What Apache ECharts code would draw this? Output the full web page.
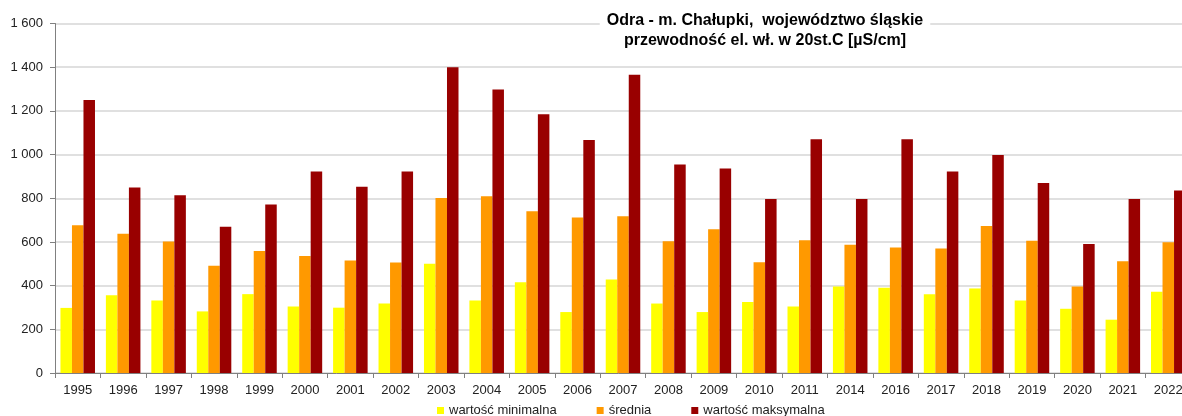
<!DOCTYPE html>
<html lang="pl">
<head>
    <meta charset="UTF-8">
    <title>Odra - m. Chałupki</title>
    <script src="https://cdn.jsdelivr.net/npm/echarts@6/dist/echarts.min.js"></script>
    <style>
        html, body { margin: 0; padding: 0; background: #fff; }
        #main { width: 1182px; height: 416px; }
    </style>
</head>
<body>
    <div id="main"></div>

    <script>
        // lata pomiarów
        var years = ['1995', '1996', '1997', '1998', '1999', '2000', '2001', '2002', '2003', '2004',
            '2005', '2006', '2007', '2008', '2009', '2010', '2011', '2014', '2016', '2017',
            '2018', '2019', '2020', '2021', '2022'];

        var minValues = [298, 356, 332, 282, 361, 305, 299, 318, 500, 332,
            416, 279, 428, 318, 279, 325, 305, 396, 390, 361,
            387, 332, 294, 244, 372];

        var meanValues = [676, 637, 602, 491, 558, 536, 515, 506, 801, 809,
            740, 712, 718, 603, 658, 507, 608, 587, 574, 570,
            673, 606, 396, 512, 599];

        var maxValues = [1250, 849, 814, 669, 771, 923, 853, 923, 1400, 1298,
            1184, 1067, 1365, 954, 936, 797, 1070, 797, 1070, 922,
            998, 870, 590, 797, 835];

        var seriesNames = ['wartość minimalna', 'średnia', 'wartość maksymalna'];
        var colors = ['#ffff00', '#ff9900', '#990000'];

        var font = '"Liberation Sans", Arial, sans-serif';

        // 1600 -> "1 600"
        function fmt(v) {
            return String(v).replace(/\B(?=(\d{3})+$)/g, ' ');
        }

        var option = {
            animation: false,
            color: colors,
            title: {
                text: 'Odra - m. Chałupki,  województwo śląskie\nprzewodność el. wł. w 20st.C [µS/cm]',
                left: 758,
                top: 8,
                textAlign: 'center',
                backgroundColor: '#fff',
                padding: [3, 7, 2, 7],
                textStyle: {
                    fontFamily: font,
                    fontSize: 16,
                    fontWeight: 'bold',
                    color: '#000',
                    lineHeight: 20
                }
            },
            legend: {
                data: seriesNames,
                left: 432,
                top: 399,
                icon: 'rect',
                itemWidth: 7,
                itemHeight: 7,
                itemGap: 40,
                textStyle: { fontFamily: font, fontSize: 13, color: '#222' }
            },
            grid: {
                left: 55,
                top: 23.5,
                width: 1136,
                height: 349.5,
                outerBoundsMode: 'none',
                containLabel: false
            },
            xAxis: {
                type: 'category',
                data: years,
                axisLine: { lineStyle: { color: '#808080' } },
                axisTick: { show: true, length: 5, lineStyle: { color: '#808080' } },
                axisLabel: { fontFamily: font, fontSize: 13, color: '#222', margin: 11, interval: 0 }
            },
            yAxis: {
                type: 'value',
                min: 0,
                max: 1600,
                interval: 200,
                axisLine: { show: true, lineStyle: { color: '#808080' } },
                axisTick: { show: true, length: 5, lineStyle: { color: '#808080' } },
                axisLabel: { fontFamily: font, fontSize: 13, color: '#222', margin: 12, formatter: fmt },
                splitLine: { lineStyle: { color: '#d6d6d6', width: 1.5 } }
            },
            series: [
                { name: seriesNames[0], type: 'bar', data: minValues, barGap: '0%', barCategoryGap: '24%' },
                { name: seriesNames[1], type: 'bar', data: meanValues, barGap: '0%', barCategoryGap: '24%' },
                { name: seriesNames[2], type: 'bar', data: maxValues, barGap: '0%', barCategoryGap: '24%' }
            ]
        };

        var myChart = echarts.init(document.getElementById('main'));
        myChart.setOption(option);
    </script>
</body>
</html>
